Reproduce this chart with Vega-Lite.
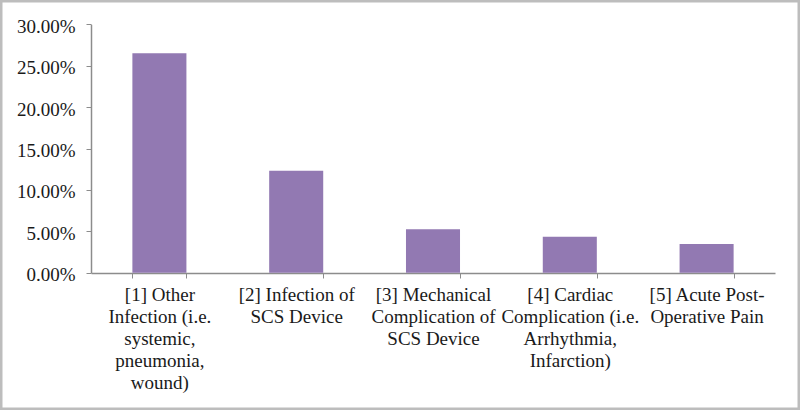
{
  "$schema": "https://vega.github.io/schema/vega-lite/v6.json",
  "width": 800,
  "height": 410,
  "padding": 0,
  "autosize": {"type": "none"},
  "background": "white",
  "config": {
    "view": {"stroke": "#bdbdbd", "strokeWidth": 5},
    "font": "Liberation Serif"
  },
  "data": {
    "values": [
      {"cause": "[1] Other Infection (i.e. systemic, pneumonia, wound)", "rate": 0.2650},
      {"cause": "[2] Infection of SCS Device", "rate": 0.1232},
      {"cause": "[3] Mechanical Complication of SCS Device", "rate": 0.0524},
      {"cause": "[4] Cardiac Complication (i.e. Arrhythmia, Infarction)", "rate": 0.0435},
      {"cause": "[5] Acute Post-Operative Pain", "rate": 0.0347}
    ]
  },
  "mark": {"type": "bar", "color": "#9279b2"},
  "encoding": {
    "x": {
      "field": "cause",
      "type": "nominal",
      "sort": null,
      "scale": {"range": [91, 775], "paddingInner": 0.605, "paddingOuter": 0.3025},
      "axis": {
        "title": null,
        "offset": -137,
        "labelAngle": 0,
        "tickBand": "extent",
        "tickSize": 5,
        "tickColor": "#8c8c8c",
        "domainColor": "#8c8c8c",
        "domainWidth": 1.5,
        "labelFont": "Liberation Serif",
        "labelFontSize": 19,
        "labelColor": "#1a1a1a",
        "labelPadding": 7,
        "labelLineHeight": 22.2,
        "labelBaseline": "top",
        "labelLimit": 220,
        "labelExpr": "datum.value == '[1] Other Infection (i.e. systemic, pneumonia, wound)' ? ['[1] Other', 'Infection (i.e.', 'systemic,', 'pneumonia,', 'wound)'] : datum.value == '[2] Infection of SCS Device' ? ['[2] Infection of', 'SCS Device'] : datum.value == '[3] Mechanical Complication of SCS Device' ? ['[3] Mechanical', 'Complication of', 'SCS Device'] : datum.value == '[4] Cardiac Complication (i.e. Arrhythmia, Infarction)' ? ['[4] Cardiac', 'Complication (i.e.', 'Arrhythmia,', 'Infarction)'] : datum.value == '[5] Acute Post-Operative Pain' ? ['[5] Acute Post-', 'Operative Pain'] : ''"
      }
    },
    "y": {
      "field": "rate",
      "type": "quantitative",
      "scale": {"domain": [0, 0.3], "range": [272.7, 24.3], "nice": false},
      "axis": {
        "title": null,
        "offset": -91,
        "values": [0, 0.05, 0.1, 0.15, 0.2, 0.25, 0.3],
        "format": ".2%",
        "grid": false,
        "tickSize": 5,
        "tickColor": "#8c8c8c",
        "domainColor": "#8c8c8c",
        "domainWidth": 1.5,
        "labelFont": "Liberation Serif",
        "labelFontSize": 19,
        "labelColor": "#1a1a1a",
        "labelPadding": 11,
        "labelOffset": 2
      }
    }
  }
}
